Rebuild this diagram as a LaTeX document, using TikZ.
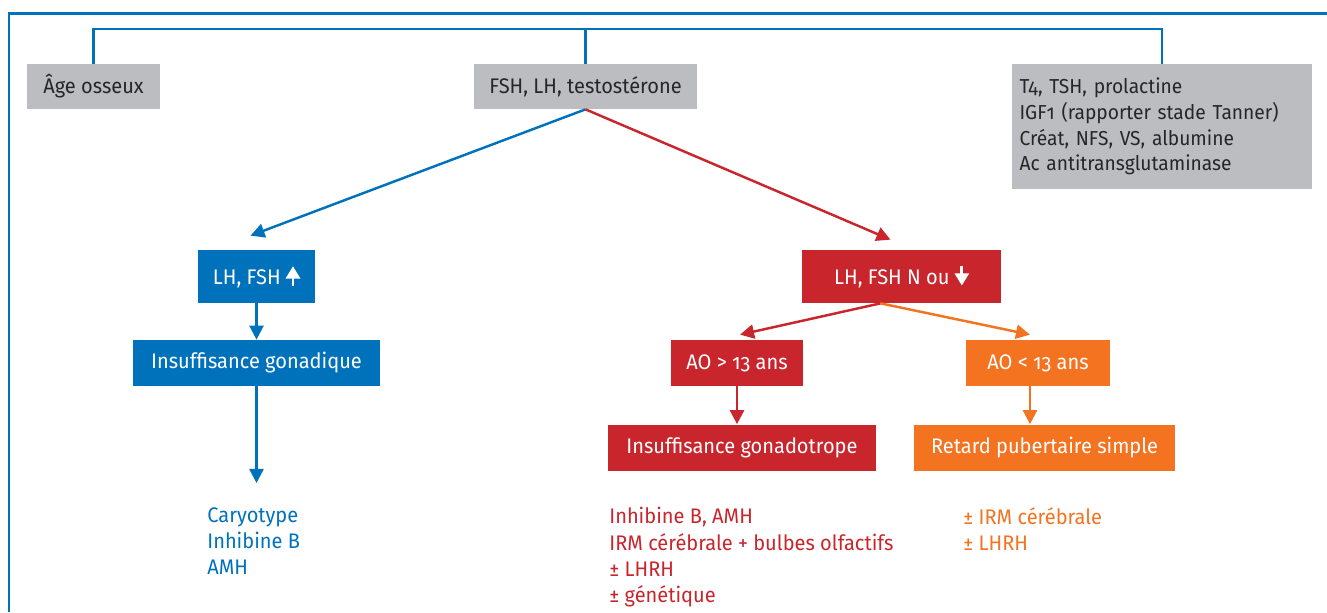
\documentclass[tikz,border=0pt]{standalone}
\usepackage{fontspec}
\setmainfont[Numbers=OldStyle,FakeStretch=0.95]{Fira Sans}
\usetikzlibrary{arrows.meta}
\usetikzlibrary{calc}
\definecolor{pathblue}{RGB}{0,114,188}
\definecolor{pathred}{RGB}{201,37,44}
\definecolor{pathorange}{RGB}{243,115,33}
\definecolor{boxgray}{RGB}{188,189,192}
\tikzset{
    box/.style={inner sep=0pt, minimum height=0.92cm, text=white, font=\fontsize{12pt}{15pt}\selectfont},
    graybox/.style={box, fill=boxgray, text=black!85, minimum height=0.9cm},
    link/.style={line width=1.4pt, -{Triangle[width=8pt,length=8pt]}},
    results/.style={anchor=north west, inner sep=0pt, align=left, font=\fontsize{12pt}{15pt}\selectfont}
}

\begin{document}
\begin{tikzpicture}[x=0.02cm, y=-0.02cm]
        \useasboundingbox (0,0) rectangle (1327,612);
        % frame
        \draw[pathblue, line width=1.7pt] (9,612) -- (9,13.5) -- (1327,13.5);
        % first line of tests
        \node[graybox, minimum width=2.66cm] (age) at (93.5,86.5) {Âge osseux};
        \node[graybox, minimum width=4.46cm] (hormones) at (585.5,86.5) {FSH, LH, testostérone};
        \node[graybox, minimum width=6cm, minimum height=2.5cm, align=left, text width=5.7cm,
              font=\fontsize{11.5pt}{14.7pt}\selectfont] (others) at (1162,126.5)
        {T4, TSH, prolactine\\IGF1 (rapporter stade Tanner)\\Créat, NFS, VS, albumine\\Ac antitransglutaminase};
        \coordinate (bus) at (0,29);
        \draw[pathblue, line width=1.4pt] (age.north) -- (age.north |- bus) -- (others.north |- bus) -- (others.north);
        \draw[pathblue, line width=1.4pt] (hormones.north) -- (hormones.north |- bus);
        % high gonadotropins
        \node[box, fill=pathblue, minimum width=2.34cm, minimum height=1.06cm] (high) at (256.5,276.5)
        {LH, FSH \tikz[baseline=0pt] \draw[white, line width=1.6pt, -{Triangle[width=8pt,length=7pt]}] (0pt,-0.5pt) -- (0pt,10.5pt);};
        \node[box, fill=pathblue, minimum width=4.94cm] (gonadique) at (256.5,363) {Insuffisance gonadique};
        \node[results, text=pathblue] (bluetests) at (207,507) {Caryotype\\Inhibine B\\AMH};
        \draw[link, pathblue] (hormones.south) -- ($(high.north)+(-6,-14)$);
        \draw[link, pathblue] (high.south) -- (gonadique.north);
        \draw[link, pathblue] (gonadique.south) -- ($(gonadique.south |- bluetests.north)+(0,-24)$);
        % normal or low gonadotropins
        \node[box, fill=pathred, minimum width=3.98cm, minimum height=1.06cm] (low) at (901.5,276.5)
        {LH, FSH N ou \tikz[baseline=0pt] \draw[white, line width=1.6pt, -{Triangle[width=8pt,length=7pt]}] (0pt,10.5pt) -- (0pt,-0.5pt);};
        \draw[link, pathred] (hormones.south) -- ($(low.north)+(-11,-10)$);
        \node[box, fill=pathred, minimum width=2.64cm] (older) at (737,363) {AO > 13 ans};
        \node[box, fill=pathorange, minimum width=2.88cm] (younger) at (1038,363) {AO < 13 ans};
        \coordinate (split) at ($(low.south)+(-21,0)$);
        \draw[link, pathred] (split) -- ($(older.north)+(3,-5)$);
        \draw[link, pathorange] (split) -- ($(younger.north)+(-8,-5)$);
        \node[box, fill=pathred, minimum width=5.36cm] (gonadotrope) at (742,447.5) {Insuffisance gonadotrope};
        \node[box, fill=pathorange, minimum width=5.22cm] (retard) at (1044.5,447.5) {Retard pubertaire simple};
        \draw[link, pathred] (older.south) -- (older.south |- gonadotrope.north);
        \draw[link, pathorange] ($(younger.south)+(-8,0)$) -- ($(younger.south |- retard.north)+(-8,0)$);
        \node[results, text=pathred] (redtests) at (609,507)
        {Inhibine B, AMH\\IRM cérébrale + bulbes olfactifs\\± LHRH\\± génétique};
        \node[results, text=pathorange] (orangetests) at (963,507) {± IRM cérébrale\\± LHRH};
    \end{tikzpicture}
\end{document}
